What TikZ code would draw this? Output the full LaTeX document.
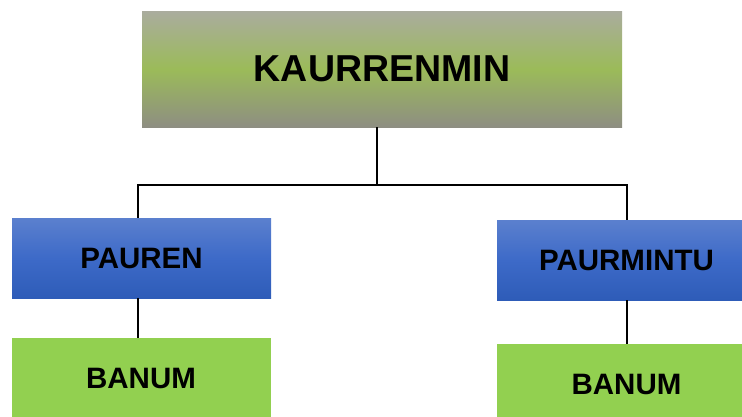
\documentclass[tikz,border=0pt]{standalone}
\usepackage{fontspec}
\setmainfont{Liberation Sans}
\begin{document}
\begin{tikzpicture}[x=1pt,y=1pt,
  box/.style={rectangle, inner sep=0pt, font=\bfseries, text=black},
  rootbox/.style={box, minimum width=480pt, minimum height=116pt,
    top color=rootgray, bottom color=rootdark, middle color=rootgreen,
    font=\fontsize{37.5}{42}\selectfont\bfseries},
  midbox/.style={box, minimum width=259pt, minimum height=80pt,
    top color=bluetop, bottom color=bluebot, middle color=bluemid,
    font=\fontsize{29.5}{33}\selectfont\bfseries},
  leafbox/.style={box, minimum width=259pt, minimum height=80pt,
    fill=leafgreen, font=\fontsize{29.5}{33}\selectfont\bfseries},
  link/.style={draw=black, line width=2pt}]
\definecolor{rootgray}{HTML}{AAAC9E}
\definecolor{rootgreen}{HTML}{9BBB59}
\definecolor{rootdark}{HTML}{8E8E82}
\definecolor{bluetop}{HTML}{5B80CE}
\definecolor{bluemid}{HTML}{3D6AC8}
\definecolor{bluebot}{HTML}{2E5CB8}
\definecolor{leafgreen}{HTML}{92D050}
\useasboundingbox (0,0) rectangle (742,-416);
\clip (0,0) rectangle (742,-416);

\node[rootbox] (root) at (382,-69) {KAURRENMIN};
\node[midbox]  (left) at (141.5,-258) {PAUREN};
\node[midbox]  (right) at (626.5,-260) {PAURMINTU};
\node[leafbox] (leftleaf) at (141,-378) {BANUM};
\node[leafbox] (rightleaf) at (626.5,-384) {BANUM};

\coordinate (bus) at (377,-185);
\draw[link] (root.south -| bus) -- (bus);
\draw[link] ([xshift=-3.5pt]left.north) |- (bus) -| (right.north);
\draw[link] ([xshift=-3.5pt]left.south) -- ([xshift=-3pt]leftleaf.north);
\draw[link] (right.south) -- (rightleaf.north);
\end{tikzpicture}
\end{document}
